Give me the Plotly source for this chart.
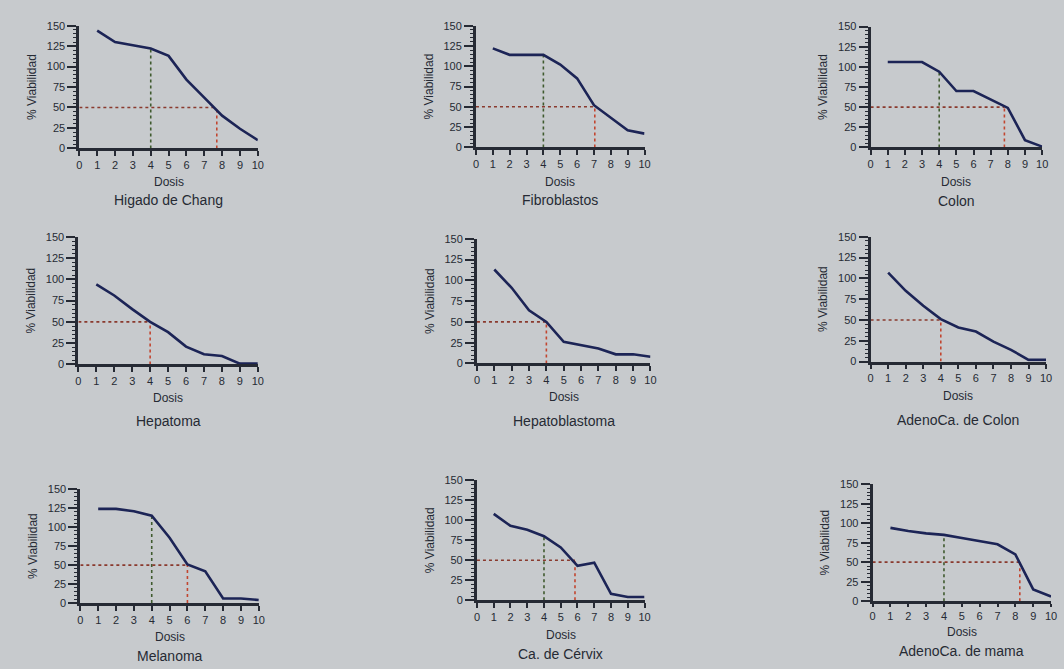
import plotly.graph_objects as go

W, H = 1064, 669

# ---------------- data ----------------
doses = [1, 2, 3, 4, 5, 6, 7, 8, 9, 10]
panel_names = ["Higado de Chang", "Fibroblastos", "Colon",
               "Hepatoma", "Hepatoblastoma", "AdenoCa. de Colon",
               "Melanoma", "Ca. de Cérvix", "AdenoCa. de mama"]
higado_chang = [144, 130, 126, 122, 113, 84, 62, 40, 24, 10]
fibroblastos = [122, 114, 114, 114, 102, 85, 52, 37, 21, 17]
colon = [106, 106, 106, 94, 70, 70, 60, 49, 9, 1]
hepatoma = [94, 81, 65, 50, 38, 21, 12, 10, 1, 1]
hepatoblastoma = [113, 91, 64, 50, 26, 22, 18, 11, 11, 8]
adenoca_colon = [107, 85, 67, 51, 41, 36, 24, 14, 2, 2]
melanoma = [124, 124, 121, 115, 86, 51, 42, 6, 6, 4]
cervix = [108, 93, 88, 80, 66, 43, 47, 8, 4, 4]
adenoca_mama = [94, 90, 87, 85, 81, 77, 73, 60, 15, 6]
series = [higado_chang, fibroblastos, colon, hepatoma, hepatoblastoma,
          adenoca_colon, melanoma, cervix, adenoca_mama]
ic50 = [7.7, 7.05, 7.8, 4.0, 4.0, 4.0, 6.0, 5.85, 8.25]
ref_dose = 4
half = 50
y_ticks = [0, 25, 50, 75, 100, 125, 150]
x_ticks = [0, 1, 2, 3, 4, 5, 6, 7, 8, 9, 10]

# ---------------- layout (pixel boxes) ----------------
boxes = [(77, 257, 20, 145), (477, 647, 20, 144), (875, 1048, 21, 144),
         (76, 257, 235, 365), (478, 653, 237, 364), (875, 1052, 235, 362),
         (78, 258, 492, 608), (478, 647, 483, 605), (877, 1057, 487, 606)]
dosis_y = [179, 179, 179, 399, 398, 397, 643, 640, 637]
name_y = [198, 198, 199, 423, 423, 422, 662, 660, 657]
tick_len = [5, 5, 5, 5, 5, 5, 5, 5, 3]

ink = "#262a34"
line_col = "#1c2456"
green = "#3f5a2e"
red_h = "#8a3a2e"
red_v = "#c2452f"
bg = "#c7cacd"

fig = go.Figure()
layout = dict(width=W, height=H, margin=dict(l=0, r=0, t=0, b=0),
              paper_bgcolor=bg, plot_bgcolor="rgba(0,0,0,0)",
              showlegend=False, font=dict(family="Liberation Sans, Arial", color=ink))
annotations = []

for i, (vals, name, ic, box) in enumerate(zip(series, panel_names, ic50, boxes)):
    k = "" if i == 0 else str(i + 1)
    xa, ya = "x" + k, "y" + k
    x0, x1, y0, y1 = box
    v_at_ref = vals[doses.index(ref_dose)]
    # reference dotted lines
    if ic != ref_dose:
        fig.add_trace(go.Scatter(x=[ref_dose, ref_dose], y=[0, v_at_ref], mode="lines",
                                 line=dict(color=green, width=1.6, dash="dot"),
                                 xaxis=xa, yaxis=ya, hoverinfo="skip"))
    fig.add_trace(go.Scatter(x=[0, ic], y=[half, half], mode="lines",
                             line=dict(color=red_h, width=1.6, dash="dot"),
                             xaxis=xa, yaxis=ya, hoverinfo="skip"))
    fig.add_trace(go.Scatter(x=[ic, ic], y=[0, half], mode="lines",
                             line=dict(color=red_v, width=1.6, dash="dot"),
                             xaxis=xa, yaxis=ya, hoverinfo="skip"))
    # curve
    fig.add_trace(go.Scatter(x=doses, y=vals, mode="lines",
                             line=dict(color=line_col, width=2.6),
                             xaxis=xa, yaxis=ya, cliponaxis=False))
    layout["xaxis" + k] = dict(domain=[x0 / W, x1 / W], anchor=ya, range=[0, 10],
                               tickvals=x_ticks, ticks="outside", ticklen=tick_len[i], tickwidth=2,
                               tickcolor=ink, showline=True, linecolor=ink, linewidth=2.5,
                               showgrid=False, zeroline=False,
                               tickfont=dict(size=11, color=ink))
    layout["yaxis" + k] = dict(domain=[1 - y1 / H, 1 - y0 / H], anchor=xa, range=[0, 150],
                               tickvals=y_ticks, ticks="outside", ticklen=9, tickwidth=1.5,
                               tickcolor=ink, showline=True, linecolor=ink, linewidth=3,
                               showgrid=False, zeroline=False,
                               minor=dict(dtick=5, ticks="outside", ticklen=3, tickcolor=ink, tickwidth=1),
                               tickfont=dict(size=11, color=ink),
                               title=dict(text="% Viabilidad", font=dict(size=12, color=ink), standoff=8))
    cx = (x0 + x1) / 2 / W
    annotations.append(dict(text="Dosis", x=cx, y=1 - dosis_y[i] / H, xref="paper", yref="paper",
                            showarrow=False, xanchor="center", yanchor="middle",
                            font=dict(size=12, color=ink)))
    annotations.append(dict(text=name, x=cx, y=1 - name_y[i] / H, xref="paper", yref="paper",
                            showarrow=False, xanchor="center", yanchor="middle",
                            font=dict(size=14, color=ink)))

layout["annotations"] = annotations
fig.update_layout(**layout)
fig.write_html("out.html", config={"displayModeBar": False},
               post_script="document.body.style.margin='0';document.body.style.background='%s';" % bg)
